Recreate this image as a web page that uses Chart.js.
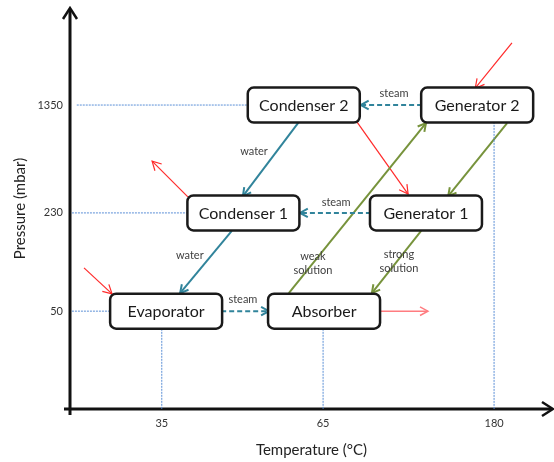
<!DOCTYPE html>
<html>
<head>
<meta charset="utf-8">
<script src="https://cdn.jsdelivr.net/npm/chart.js@4/dist/chart.umd.min.js"></script>
<style>
html, body { margin: 0; padding: 0; background: #fff; }
</style>
</head>
<body>
<canvas id="diagram" width="554" height="462"></canvas>
<script>
// axis ticks, placed in diagram units (0-100 on both axes)
const xTickPos = [19.0, 52.4, 87.8];
const xTickLabels = ["35", "65", "180"];
const yTickPos = [24.4, 48.9, 75.8];
const yTickLabels = ["50", "230", "1350"];

// components (box centres)
const boxNames = ["Condenser 2", "Generator 2", "Condenser 1", "Generator 1", "Evaporator", "Absorber"];
const boxX = [48.4, 84.3, 35.9, 73.7, 19.9, 52.6];
const boxY = [75.8, 75.8, 48.9, 48.9, 24.4, 24.4];

// flows as [x1, y1, x2, y2]
const waterFlows = [[47.4, 71.6, 35.8, 53.1], [33.5, 44.4, 22.8, 28.9]];
const steamFlows = [[72.9, 75.8, 60.2, 75.8], [62.3, 48.9, 47.6, 48.9], [31.3, 24.4, 41.2, 24.4]];
const solutionFlows = [[45.3, 28.9, 73.7, 71.3], [90.5, 71.3, 78.3, 53.1], [72.7, 44.4, 62.5, 28.9]];
const heatFlows = [[91.5, 91.3, 83.9, 80.0], [59.4, 71.6, 70.0, 53.6], [24.4, 52.9, 17.0, 61.8], [2.9, 35.2, 8.7, 28.7]];
const heatOut = [[64.0, 24.4, 74.1, 24.4]];

// dotted guides from the axis ticks to the components
const guideLines = [[1.4, 75.8, 36.6, 75.8], [0.4, 48.9, 24.2, 48.9], [0.4, 24.4, 8.5, 24.4],
  [19.0, 20.0, 19.0, 0], [52.4, 20.0, 52.4, 0], [87.8, 71.6, 87.8, 0]];

// flow labels: text, x, y
const flowLabels = [
  ["water", 38.1, 64.3], ["water", 24.8, 38.2],
  ["steam", 67.1, 78.6], ["steam", 55.1, 51.6], ["steam", 35.8, 27.2],
  [["weak", "solution"], 50.3, 36.3], [["strong", "solution"], 68.1, 36.7]
];

function segments(list, style) {
  return list.map(s => Object.assign({
    data: [{ x: s[0], y: s[1] }, { x: s[2], y: s[3] }],
    showLine: true,
    pointRadius: 0,
    fill: false,
    clip: false
  }, style));
}

const teal = "#31849b";
const datasets = [].concat(
  segments(guideLines, { borderColor: "#5b8fd6", borderWidth: 1, borderDash: [2, 1], head: false }),
  segments(waterFlows, { borderColor: teal, borderWidth: 2, head: true }),
  segments(steamFlows, { borderColor: teal, borderWidth: 2, borderDash: [5, 3], head: true }),
  segments(solutionFlows, { borderColor: "#77933c", borderWidth: 2, head: true }),
  segments(heatFlows, { borderColor: "#ff2a2a", borderWidth: 1.2, head: true }),
  segments(heatOut, { borderColor: "#ff7c80", borderWidth: 1.5, head: true })
);

const diagramPlugin = {
  id: "diagram",
  beforeDatasetsDraw(chart) {
    const { ctx, chartArea: a } = chart;
    ctx.save();
    ctx.strokeStyle = "#111";
    ctx.lineWidth = 3;
    ctx.beginPath();
    ctx.moveTo(a.left, a.bottom + 6);
    ctx.lineTo(a.left, a.top + 1);
    ctx.moveTo(a.left - 6, a.bottom);
    ctx.lineTo(a.right - 1, a.bottom);
    ctx.stroke();
    ctx.lineWidth = 2.5;
    ctx.beginPath();
    ctx.moveTo(a.left - 7, a.top + 11);
    ctx.lineTo(a.left, a.top);
    ctx.lineTo(a.left + 7, a.top + 11);
    ctx.moveTo(a.right - 11, a.bottom - 7);
    ctx.lineTo(a.right, a.bottom);
    ctx.lineTo(a.right - 11, a.bottom + 7);
    ctx.stroke();
    ctx.restore();
  },
  afterDatasetsDraw(chart) {
    const { ctx, scales: { x, y } } = chart;
    ctx.save();
    // arrow heads
    chart.data.datasets.forEach((ds, i) => {
      if (!ds.head) return;
      const pts = chart.getDatasetMeta(i).data;
      const p0 = pts[0], p1 = pts[1];
      const ang = Math.atan2(p1.y - p0.y, p1.x - p0.x);
      const len = ds.borderWidth > 1.4 ? 9 : 10, spread = 0.5;
      ctx.setLineDash([]);
      ctx.strokeStyle = ds.borderColor;
      ctx.lineWidth = ds.borderWidth;
      ctx.beginPath();
      ctx.moveTo(p1.x - len * Math.cos(ang - spread), p1.y - len * Math.sin(ang - spread));
      ctx.lineTo(p1.x, p1.y);
      ctx.lineTo(p1.x - len * Math.cos(ang + spread), p1.y - len * Math.sin(ang + spread));
      ctx.stroke();
    });
    // component boxes
    const w = 112, h = 35;
    ctx.font = "16px Lato";
    ctx.textAlign = "center";
    ctx.textBaseline = "middle";
    boxNames.forEach((name, i) => {
      const cx = x.getPixelForValue(boxX[i]);
      const cy = y.getPixelForValue(boxY[i]);
      ctx.beginPath();
      ctx.roundRect(cx - w / 2, cy - h / 2, w, h, 6);
      ctx.fillStyle = "#fff";
      ctx.fill();
      ctx.lineWidth = 2.5;
      ctx.strokeStyle = "#1a1a1a";
      ctx.stroke();
      ctx.fillStyle = "#1a1a1a";
      ctx.fillText(name, cx, cy + 1);
    });
    // flow labels
    ctx.font = "11px Lato";
    ctx.fillStyle = "#404040";
    flowLabels.forEach(([text, lx, ly]) => {
      const lines = Array.isArray(text) ? text : [text];
      const cx = x.getPixelForValue(lx);
      const cy = y.getPixelForValue(ly);
      lines.forEach((t, k) => {
        ctx.fillText(t, cx, cy + (k - (lines.length - 1) / 2) * 14);
      });
    });
    ctx.restore();
  }
};

new Chart(document.getElementById("diagram"), {
  type: "scatter",
  data: { datasets: datasets },
  options: {
    responsive: false,
    animation: false,
    layout: { padding: { top: 8, right: 1, left: 0, bottom: 0 } },
    plugins: { legend: { display: false }, tooltip: { enabled: false } },
    scales: {
      x: {
        type: "linear",
        min: 0,
        max: 100,
        afterBuildTicks: ax => { ax.ticks = xTickPos.map(v => ({ value: v })); },
        afterFit: ax => { ax.height = 53; ax.paddingLeft = 0; ax.paddingRight = 0; },
        grid: { display: false, drawTicks: false },
        border: { display: false },
        ticks: {
          padding: 8,
          color: "#333",
          font: { family: "Lato", size: 11 },
          autoSkip: false,
          maxRotation: 0,
          callback: (v, i) => xTickLabels[i]
        },
        title: {
          display: true,
          text: "Temperature (°C)",
          color: "#222",
          font: { family: "Lato", size: 15 },
          padding: { top: 0, bottom: 3 }
        }
      },
      y: {
        type: "linear",
        min: 0,
        max: 100,
        afterBuildTicks: ax => { ax.ticks = yTickPos.map(v => ({ value: v })); },
        afterFit: ax => { ax.width = 70; ax.paddingTop = 0; ax.paddingBottom = 0; },
        grid: { display: false, drawTicks: false },
        border: { display: false },
        ticks: {
          padding: 7,
          color: "#333",
          font: { family: "Lato", size: 11 },
          autoSkip: false,
          callback: (v, i) => yTickLabels[i]
        },
        title: {
          display: true,
          text: "Pressure (mbar)",
          color: "#222",
          font: { family: "Lato", size: 15 },
          padding: { top: 11, bottom: 0 }
        }
      }
    }
  },
  plugins: [diagramPlugin]
});
</script>
</body>
</html>
